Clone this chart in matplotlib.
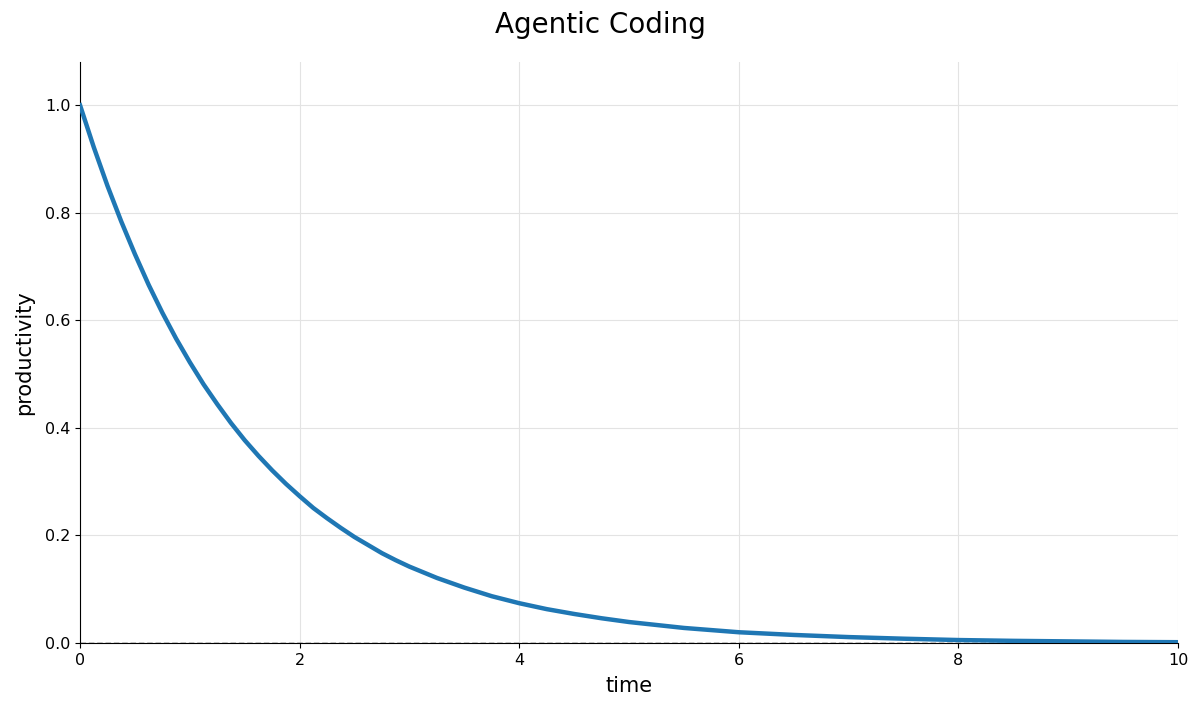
import matplotlib
matplotlib.use('Agg')
import matplotlib.pyplot as plt

# values
time = [0, 0.125, 0.25, 0.375, 0.5, 0.625, 0.75, 0.875, 1.0, 1.125, 1.25,
        1.375, 1.5, 1.625, 1.75, 1.875, 2.0, 2.125, 2.25, 2.375, 2.5, 2.625,
        2.75, 2.875, 3.0, 3.25, 3.5, 3.75, 4.0, 4.25, 4.5, 4.75, 5.0, 5.5,
        6.0, 6.5, 7.0, 7.5, 8.0, 8.5, 9.0, 9.5, 10.0]
productivity = [1.0, 0.922, 0.850, 0.784, 0.723, 0.666, 0.614, 0.566, 0.522,
                0.481, 0.444, 0.409, 0.377, 0.348, 0.321, 0.296, 0.273,
                0.251, 0.232, 0.214, 0.197, 0.182, 0.167, 0.154, 0.142,
                0.121, 0.103, 0.087, 0.074, 0.063, 0.054, 0.046, 0.039,
                0.028, 0.020, 0.015, 0.011, 0.008, 0.0055, 0.004, 0.003,
                0.002, 0.0015]

fig = plt.figure(figsize=(12, 7.15), dpi=100)
ax = fig.add_axes([0.0667, 0.1007, 0.915, 0.8123])

ax.plot(time, productivity, color='#1f77b4', linewidth=3.2, zorder=3,
        solid_joinstyle='round')
ax.axhline(0, color='black', linestyle='--', linewidth=1, dashes=(4, 2), zorder=2)

ax.set_xlim(0, 10)
ax.set_ylim(0, 1.08)
ax.set_xticks([0, 2, 4, 6, 8, 10])
ax.set_yticks([0.0, 0.2, 0.4, 0.6, 0.8, 1.0])
ax.tick_params(labelsize=11.5)
ax.grid(True, color='#e3e3e3', linewidth=0.8)
ax.set_axisbelow(True)
ax.spines['top'].set_visible(False)
ax.spines['right'].set_visible(False)

ax.set_xlabel('time', fontsize=15, labelpad=6)
ax.set_ylabel('productivity', fontsize=15, labelpad=8)
fig.suptitle('Agentic Coding', fontsize=20, y=0.985)

plt.savefig('out.png', dpi=100)
